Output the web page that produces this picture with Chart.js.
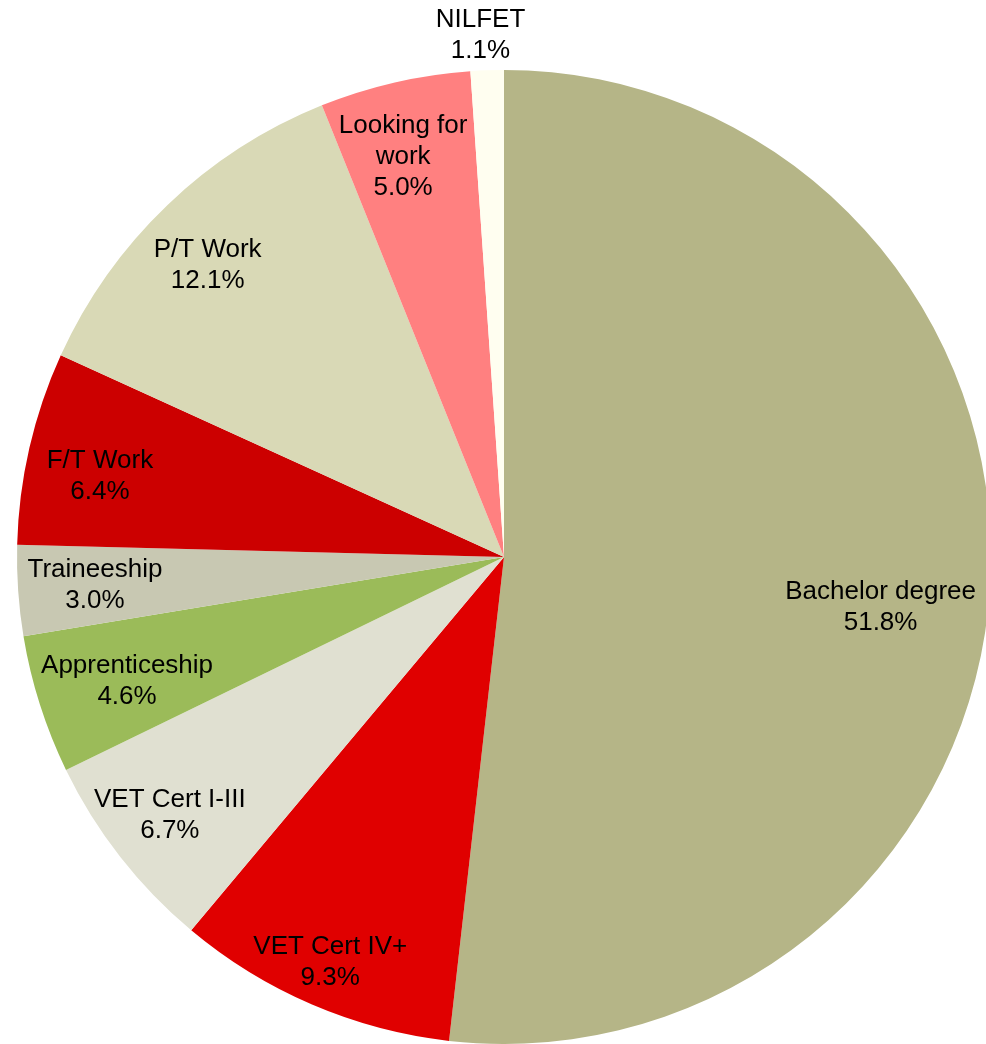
<!DOCTYPE html>
<html>
<head>
<meta charset="utf-8">
<script src="https://cdn.jsdelivr.net/npm/chart.js@4/dist/chart.umd.min.js"></script>
<style>
  html, body { margin: 0; padding: 0; background: #fff; overflow: hidden; }
  #wrap { position: relative; width: 1008px; height: 1044px; }
</style>
</head>
<body>
<div id="wrap"><canvas id="chart" width="1008" height="1044"></canvas></div>
<script>
// shares of destinations, clockwise from 12 o'clock
const labels = ['Bachelor degree', 'VET Cert IV+', 'VET Cert I-III', 'Apprenticeship', 'Traineeship',
  'F/T Work', 'P/T Work', 'Looking for work', 'NILFET'];
const shares = [51.8, 9.3, 6.7, 4.6, 3.0, 6.4, 12.1, 5.0, 1.1];
const colors = ['#B5B587', '#E00000', '#E0E0D1', '#9BBB59', '#C8C8B2', '#CC0000', '#D9D9B6', '#FF8080', '#FFFEF0'];

// how the label text wraps in the picture
const labelLines = [['Bachelor degree'], ['VET Cert IV+'], ['VET Cert I-III'], ['Apprenticeship'], ['Traineeship'],
  ['F/T Work'], ['P/T Work'], ['Looking for', 'work'], ['NILFET']];

// label placement: fraction of radius, and angle nudge in degrees
const labelRadius = [0.78, 0.905, 0.867, 0.815, 0.842, 0.846, 0.854, 0.847, 1.072];
const labelShift = [4.3, 0, 0.3, -0.6, 0, -1.7, -1.7, -1.2, -0.6];

var sliceLabels = {
  id: 'sliceLabels',
  afterDatasetsDraw(chart) {
    const ctx = chart.ctx;
    const meta = chart.getDatasetMeta(0);
    ctx.save();
    ctx.font = '26px "Liberation Sans", Arial, sans-serif';
    ctx.fillStyle = '#000';
    ctx.textAlign = 'center';
    ctx.textBaseline = 'middle';
    const lineH = 31;
    meta.data.forEach((arc, i) => {
      const p = arc.getProps(['x', 'y', 'startAngle', 'endAngle', 'outerRadius'], true);
      const mid = (p.startAngle + p.endAngle) / 2 + labelShift[i] * Math.PI / 180;
      const r = p.outerRadius * labelRadius[i];
      const cx = p.x + Math.cos(mid) * r;
      const cy = p.y + Math.sin(mid) * r;
      const lines = labelLines[i].concat([shares[i].toFixed(1) + '%']);
      const top = cy - (lines.length - 1) * lineH / 2;
      lines.forEach((t, k) => ctx.fillText(t, cx, top + k * lineH));
    });
    ctx.restore();
  }
};

var ctx = document.getElementById('chart').getContext('2d');

var chart = new Chart(ctx, {
  type: 'pie',
  data: {
    labels: labels,
    datasets: [{
      data: shares,
      backgroundColor: colors,
      borderWidth: 0
    }]
  },
  options: {
    responsive: false,
    animation: false,
    layout: { padding: { top: 70, bottom: 0, left: 17, right: 17 } },
    plugins: {
      legend: { display: false },
      tooltip: { enabled: false }
    }
  },
  plugins: [sliceLabels]
});
</script>
</body>
</html>
